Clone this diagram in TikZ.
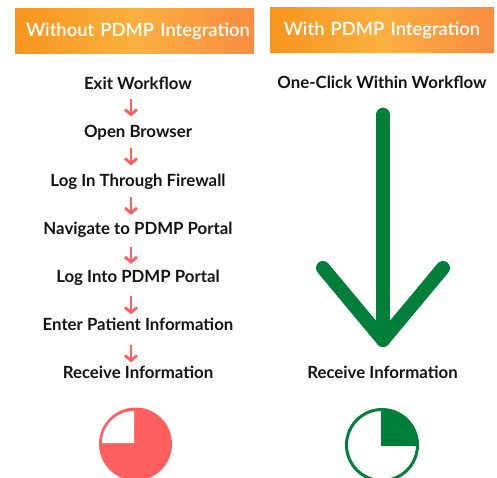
\documentclass[tikz,border=0pt]{standalone}
\usepackage{fontspec}
\setmainfont{Lato}
\newfontfamily\headfont{Lato Semibold}
\usetikzlibrary{arrows.meta,calc}
\definecolor{hA}{HTML}{F7941D}
\definecolor{hB}{HTML}{FBB040}
\definecolor{hC}{HTML}{F98C40}
\definecolor{redc}{HTML}{FF5F5F}
\definecolor{greenc}{HTML}{007F3A}
\definecolor{ink}{HTML}{141414}
\tikzset{
  x=1pt,y=-1pt,
  header/.style={minimum height=45pt,inner sep=0pt,text=white,font=\headfont\fontsize{18.4}{22}\selectfont,
    left color=hA,right color=hC,middle color=hB,shading angle=90},
  stepnode/.style={anchor=base,text=ink,font=\bfseries\fontsize{16.8}{20}\selectfont,inner sep=0pt,text height=12pt,text depth=4pt},
  smallarrow/.style={draw=redc,line width=2.8pt,-{Straight Barb[length=5pt,width=12pt,line width=2.8pt]}},
  bigarrow/.style={draw=greenc,line width=14pt,line cap=round,line join=round},
}
\begin{document}
\begin{tikzpicture}
\useasboundingbox (0,0) rectangle (497,478);
\node[header,minimum width=239pt,text width=239pt,align=center] (hl) at (134.5,31) {\hspace*{7pt}Without PDMP Integration};
\node[header,minimum width=224pt,text width=224pt,align=center] (hr) at (382,30.5) {With PDMP Integration};
\node[stepnode] (a1) at (138,90) {Exit Workflow};
\node[stepnode] (a2) at (138,138) {Open Browser};
\node[stepnode] (a3) at (138,186) {Log In Through Firewall};
\node[stepnode] (a4) at (138,234.5) {Navigate to PDMP Portal};
\node[stepnode] (a5) at (138,282) {Log Into PDMP Portal};
\node[stepnode] (a6) at (138,330.5) {Enter Patient Information};
\node[stepnode] (a7) at (138,378.5) {Receive Information};
\node[stepnode] (b1) at (382,88.5) {One-Click Within Workflow};
\node[stepnode] (b2) at (382.5,378) {Receive Information};
\coordinate (ax) at (131,0);
\coordinate (bx) at (383,0);
\coordinate (tl) at (323,268);
\coordinate (tr) at (443,268);
\coordinate (tip) at (383,340);
\foreach \i/\j/\s/\e in {a1/a2/4.5/9.5,a2/a3/5.5/8.5,a3/a4/7/7.5,a4/a5/8/6,a5/a6/10/4,a6/a7/10/4}
  \draw[smallarrow,shorten <=\s pt,shorten >=\e pt] (\i.south -| ax) -- (\j.north -| ax);
\draw[bigarrow,shorten <=22pt] (b1.south -| bx) -- (tip);
\draw[bigarrow] (tl) -- (tip) -- (tr);
\fill[redc] (135.5,444) circle (36.5);
\fill[white] (134,443) -- (134,411) arc[start angle=-90,end angle=-180,radius=32] -- cycle;
\draw[greenc,line width=3pt] (382,445) circle (35.5);
\fill[greenc] (381,446) -- (381,408.5) arc[start angle=-90,end angle=0,radius=37.5] -- cycle;
\end{tikzpicture}
\end{document}
